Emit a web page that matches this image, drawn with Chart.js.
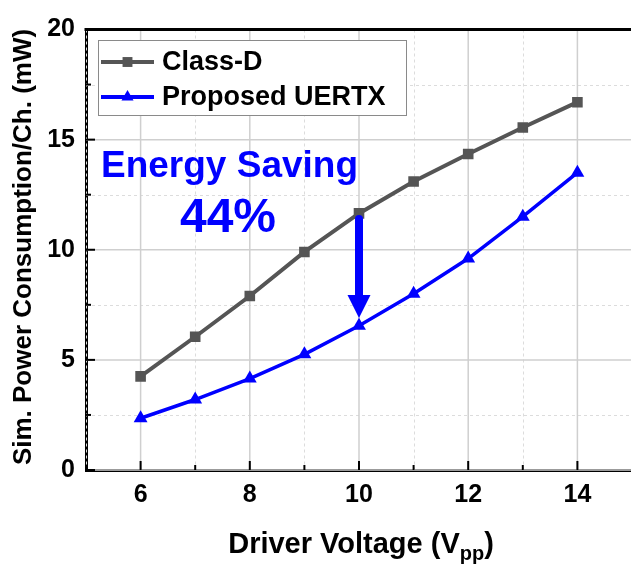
<!DOCTYPE html>
<html>
<head>
<meta charset="utf-8">
<script src="https://cdn.jsdelivr.net/npm/chart.js@4/dist/chart.umd.min.js"></script>
<style>
  html, body { margin: 0; padding: 0; background: #fff; overflow: hidden; }
  #wrap { width: 640px; height: 566px; position: relative; }
</style>
</head>
<body>
<div id="wrap"><canvas id="c" width="640" height="566"></canvas></div>
<script>
// Driver voltage sweep (Vpp) and simulated power per channel (mW)
const voltages = [6, 7, 8, 9, 10, 11, 12, 13, 14];
const classD   = [4.25, 6.05, 7.9, 9.9, 11.65, 13.1, 14.35, 15.55, 16.7];
const uertx    = [2.35, 3.2, 4.15, 5.25, 6.55, 8.0, 9.6, 11.5, 13.5];
const seriesNames = ['Class-D', 'Proposed UERTX'];
const xTicks = [6, 8, 10, 12, 14];
const xMinor = [5, 7, 9, 11, 13, 15];
const yTicks = [0, 5, 10, 15, 20];
const yMinor = [2.5, 7.5, 12.5, 17.5];

// comparison point for the saving callout
const compareVoltage = 10;
const ci = voltages.indexOf(compareVoltage);
const savingLabel = Math.round((1 - uertx[ci] / classD[ci]) * 100) + '%';

const FONT = '"Liberation Sans", Arial, sans-serif';
const GRAY = '#555555';
const BLUE = '#0000ff';

const decor = {
  id: 'decor',
  beforeDatasetsDraw(chart) {
    const { ctx, chartArea: a, scales: { x, y } } = chart;
    ctx.save();
    // minor dashed grid
    ctx.strokeStyle = '#dcdcdc';
    ctx.lineWidth = 1;
    ctx.setLineDash([3, 3]);
    xMinor.forEach(v => {
      const px = Math.round(x.getPixelForValue(v)) + 0.5;
      ctx.beginPath(); ctx.moveTo(px, a.top); ctx.lineTo(px, a.bottom); ctx.stroke();
    });
    yMinor.forEach(v => {
      const py = Math.round(y.getPixelForValue(v)) + 0.5;
      ctx.beginPath(); ctx.moveTo(a.left, py); ctx.lineTo(a.right, py); ctx.stroke();
    });
    // major solid grid
    ctx.setLineDash([]);
    ctx.strokeStyle = '#cfcfcf';
    ctx.lineWidth = 1.5;
    xTicks.forEach(v => {
      const px = x.getPixelForValue(v);
      ctx.beginPath(); ctx.moveTo(px, a.top); ctx.lineTo(px, a.bottom); ctx.stroke();
    });
    yTicks.forEach(v => {
      const py = y.getPixelForValue(v);
      ctx.beginPath(); ctx.moveTo(a.left, py); ctx.lineTo(a.right, py); ctx.stroke();
    });
    // inward tick marks
    ctx.strokeStyle = '#000';
    ctx.lineWidth = 2;
    xTicks.forEach(v => {
      const px = x.getPixelForValue(v);
      ctx.beginPath(); ctx.moveTo(px, a.bottom); ctx.lineTo(px, a.bottom - 9); ctx.stroke();
    });
    xMinor.forEach(v => {
      const px = x.getPixelForValue(v);
      ctx.beginPath(); ctx.moveTo(px, a.bottom); ctx.lineTo(px, a.bottom - 5); ctx.stroke();
    });
    yTicks.forEach(v => {
      const py = y.getPixelForValue(v);
      ctx.beginPath(); ctx.moveTo(a.left, py); ctx.lineTo(a.left + 9, py); ctx.stroke();
    });
    yMinor.forEach(v => {
      const py = y.getPixelForValue(v);
      ctx.beginPath(); ctx.moveTo(a.left, py); ctx.lineTo(a.left + 5, py); ctx.stroke();
    });
    // top frame line
    ctx.lineWidth = 3;
    ctx.beginPath(); ctx.moveTo(a.left - 1.5, a.top); ctx.lineTo(a.right + 2, a.top); ctx.stroke();
    ctx.restore();
  },
  afterDatasetsDraw(chart) {
    const { ctx, chartArea: a, scales: { x, y } } = chart;
    ctx.save();

    // downward arrow at the comparison voltage
    const ax = x.getPixelForValue(compareVoltage);
    const yTop = y.getPixelForValue(11.4);
    const yBase = y.getPixelForValue(7.95);
    const yTip = y.getPixelForValue(6.9);
    ctx.strokeStyle = BLUE;
    ctx.fillStyle = BLUE;
    ctx.lineWidth = 8;
    ctx.lineCap = 'round';
    ctx.beginPath(); ctx.moveTo(ax, yTop); ctx.lineTo(ax, yBase + 2); ctx.stroke();
    ctx.beginPath();
    ctx.moveTo(ax - 11.5, yBase); ctx.lineTo(ax + 11.5, yBase); ctx.lineTo(ax, yTip);
    ctx.closePath(); ctx.fill();

    // callout text
    ctx.fillStyle = BLUE;
    ctx.textBaseline = 'alphabetic';
    ctx.textAlign = 'left';
    ctx.font = 'bold 37px ' + FONT;
    ctx.fillText('Energy Saving', a.left + 15, 177);
    ctx.textAlign = 'center';
    ctx.font = 'bold 48px ' + FONT;
    ctx.fillText(savingLabel, 228, 232);

    // legend
    const lx = 98, ly = 40, lw = 308, lh = 75;
    ctx.fillStyle = '#fff';
    ctx.fillRect(lx, ly, lw, lh);
    ctx.strokeStyle = '#8a8a8a';
    ctx.lineWidth = 1;
    ctx.strokeRect(lx + 0.5, ly + 0.5, lw, lh);
    const rows = [
      { name: seriesNames[0], color: GRAY, style: 'rect', r: 7, y: 62 },
      { name: seriesNames[1], color: BLUE, style: 'triangle', r: 7, y: 97 }
    ];
    rows.forEach(row => {
      ctx.strokeStyle = row.color;
      ctx.lineWidth = 4;
      ctx.lineCap = 'butt';
      ctx.beginPath(); ctx.moveTo(101, row.y); ctx.lineTo(154, row.y); ctx.stroke();
      ctx.fillStyle = row.color;
      Chart.helpers.drawPoint(ctx, { pointStyle: row.style, radius: row.r, borderWidth: 0, rotation: 0 }, 127.5, row.y);
      ctx.fillStyle = '#000';
      ctx.textAlign = 'left';
      ctx.textBaseline = 'middle';
      ctx.font = 'bold 27px ' + FONT;
      ctx.fillText(row.name, 162, row.y + 1);
    });

    // axis titles
    ctx.fillStyle = '#000';
    ctx.textBaseline = 'alphabetic';
    // x title with subscript
    const main = 'Driver Voltage (V', sub = 'pp', tail = ')';
    ctx.font = 'bold 29px ' + FONT;
    const wMain = ctx.measureText(main).width;
    const wTail = ctx.measureText(tail).width;
    ctx.font = 'bold 20px ' + FONT;
    const wSub = ctx.measureText(sub).width;
    let tx = 361 - (wMain + wSub + wTail) / 2;
    const base = 553;
    ctx.textAlign = 'left';
    ctx.font = 'bold 29px ' + FONT;
    ctx.fillText(main, tx, base); tx += wMain;
    ctx.font = 'bold 20px ' + FONT;
    ctx.fillText(sub, tx, base + 7); tx += wSub;
    ctx.font = 'bold 29px ' + FONT;
    ctx.fillText(tail, tx, base);

    // y title
    ctx.translate(31, 247);
    ctx.rotate(-Math.PI / 2);
    ctx.textAlign = 'center';
    ctx.font = 'bold 26px ' + FONT;
    ctx.fillText('Sim. Power Consumption/Ch. (mW)', 0, 0);
    ctx.restore();
  }
};

new Chart(document.getElementById('c'), {
  type: 'line',
  data: {
    labels: voltages,
    datasets: [
      {
        label: seriesNames[0],
        data: voltages.map((v, i) => ({ x: v, y: classD[i] })),
        borderColor: GRAY, backgroundColor: GRAY,
        borderWidth: 4, pointStyle: 'rect', pointRadius: 7.5,
        pointBorderWidth: 0, tension: 0
      },
      {
        label: seriesNames[1],
        data: voltages.map((v, i) => ({ x: v, y: uertx[i] })),
        borderColor: BLUE, backgroundColor: BLUE,
        borderWidth: 3.5, pointStyle: 'triangle', pointRadius: 8,
        pointBorderWidth: 0, tension: 0
      }
    ]
  },
  options: {
    responsive: false,
    animation: false,
    events: [],
    layout: { padding: { top: 29.5, right: 640 - 632.75, left: 0, bottom: 0 } },
    plugins: { legend: { display: false }, tooltip: { enabled: false } },
    scales: {
      x: {
        type: 'linear', min: 5, max: 15,
        afterBuildTicks: s => { s.ticks = xTicks.map(v => ({ value: v })); },
        afterFit: s => { s.height = 96; },
        grid: { display: false, drawTicks: false },
        border: { display: true, color: '#000', width: 3 },
        ticks: { color: '#000', font: { family: FONT, size: 25, weight: 'bold' }, padding: 10, maxRotation: 0 }
      },
      y: {
        type: 'linear', min: 0, max: 20,
        afterBuildTicks: s => { s.ticks = yTicks.map(v => ({ value: v })); },
        afterFit: s => { s.width = 86; },
        grid: { display: false, drawTicks: false },
        border: { display: true, color: '#000', width: 3 },
        ticks: { color: '#000', font: { family: FONT, size: 25, weight: 'bold' }, padding: 11 }
      }
    }
  },
  plugins: [decor]
});
</script>
</body>
</html>
